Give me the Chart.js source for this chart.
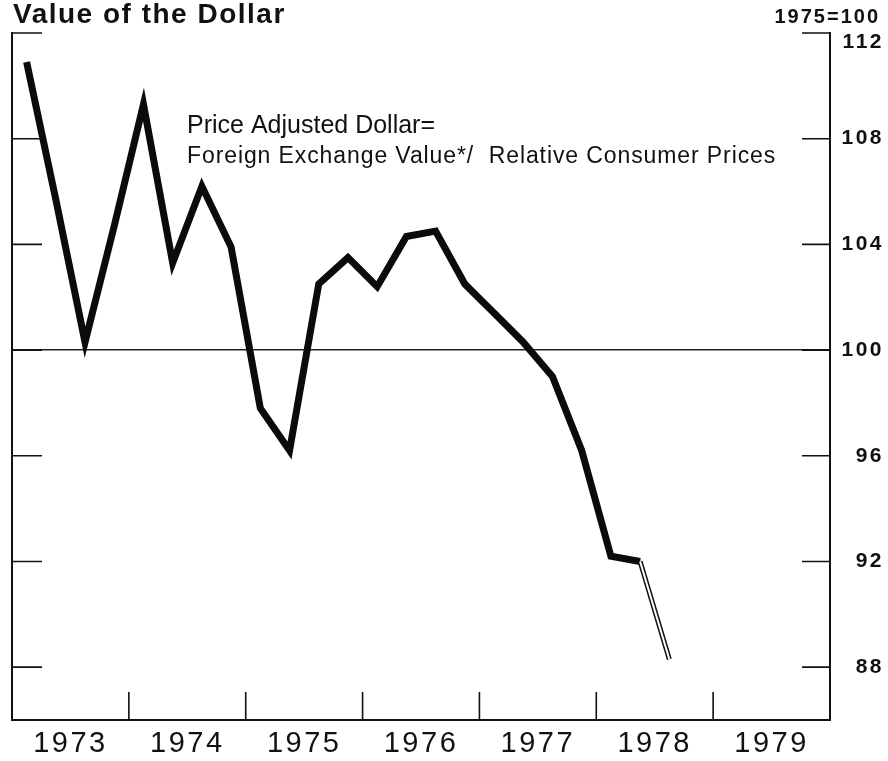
<!DOCTYPE html>
<html>
<head>
<meta charset="utf-8">
<title>Value of the Dollar</title>
<script src="https://cdn.jsdelivr.net/npm/chart.js@4.4.0/dist/chart.umd.min.js"></script>
<style>
  html, body { margin: 0; padding: 0; background: #fff; }
  #wrap { width: 888px; height: 761px; }
</style>
</head>
<body>
<div id="wrap"><canvas id="dollarChart" width="888" height="761"></canvas></div>
<script>
// quarterly price adjusted dollar, 1975=100
const quarterLabels = [
    '1973Q1', '1973Q2', '1973Q3', '1973Q4',
    '1974Q1', '1974Q2', '1974Q3', '1974Q4',
    '1975Q1', '1975Q2', '1975Q3', '1975Q4',
    '1976Q1', '1976Q2', '1976Q3', '1976Q4',
    '1977Q1', '1977Q2', '1977Q3', '1977Q4',
    '1978Q1', '1978Q2'
];
const dollarValues = [
    110.9, 105.7, 100.3, 104.7,
    109.3, 103.3, 106.2, 103.9,
    97.8, 96.2, 102.5, 103.5,
    102.4, 104.3, 104.5, 102.5,
    101.4, 100.3, 99.0, 96.2,
    92.2, 92.0
];
// preliminary segment (drawn as double line)
const estimateLabels = ['1978Q2', '1978Q3'];
const estimateValues = [92.0, 88.3];

const yearLabels = ['1973', '1974', '1975', '1976', '1977', '1978', '1979'];
const yearBounds = [1974, 1975, 1976, 1977, 1978, 1979];
const yTicks = [88, 92, 96, 100, 104, 108, 112];

const FONT = '"Liberation Sans", Arial, Helvetica, sans-serif';

function toPoints(labels, values) {
    return labels.map((lab, i) => {
        const yr = +lab.slice(0, 4);
        const q = +lab.slice(5);
        return { x: yr + (q - 0.5) / 4, y: values[i] };
    });
}

// inward tick marks on both sides and along the bottom
const tickMarks = {
    id: 'tickMarks',
    beforeDatasetsDraw(chart) {
        const ctx = chart.ctx;
        const a = chart.chartArea;
        const ys = chart.scales.y;
        const xs = chart.scales.x;
        ctx.save();
        ctx.strokeStyle = '#111';
        ctx.lineWidth = 1.6;
        ctx.beginPath();
        yTicks.forEach(v => {
            const py = ys.getPixelForValue(v);
            ctx.moveTo(a.left, py);
            ctx.lineTo(a.left + 30, py);
            ctx.moveTo(a.right - 28, py);
            ctx.lineTo(a.right, py);
        });
        yearBounds.forEach(yr => {
            const px = xs.getPixelForValue(yr);
            ctx.moveTo(px, a.bottom);
            ctx.lineTo(px, a.bottom - 28);
        });
        ctx.stroke();
        ctx.restore();
    }
};

const chartText = {
    id: 'chartText',
    beforeDraw(chart) {
        chart.ctx.letterSpacing = '2.5px';
    },
    afterDraw(chart) {
        const ctx = chart.ctx;
        ctx.save();
        ctx.fillStyle = '#111';
        ctx.textBaseline = 'alphabetic';

        ctx.letterSpacing = '1.5px';
        ctx.textAlign = 'left';
        ctx.font = 'bold 28px ' + FONT;
        ctx.fillText('Value of the Dollar', 13, 23);

        ctx.letterSpacing = '2px';
        ctx.textAlign = 'right';
        ctx.font = 'bold 20px ' + FONT;
        ctx.fillText('1975=100', 880, 23);

        ctx.textAlign = 'left';
        ctx.letterSpacing = '0px';
        ctx.font = '25px ' + FONT;
        ctx.fillText('Price Adjusted Dollar=', 187, 133);

        ctx.letterSpacing = '0.9px';
        ctx.font = '23px ' + FONT;
        ctx.fillText('Foreign Exchange Value*/  Relative Consumer Prices', 187, 163);
        ctx.restore();
    }
};

document.addEventListener('DOMContentLoaded', function() {
    const ctx = document.getElementById('dollarChart').getContext('2d');
    new Chart(ctx, {
        type: 'line',
        data: {
            datasets: [{
                label: 'Estimate inner',
                data: toPoints(estimateLabels, estimateValues),
                borderColor: '#ffffff',
                borderWidth: 2,
                pointRadius: 0,
                order: 0
            }, {
                label: 'Estimate outline',
                data: toPoints(estimateLabels, estimateValues),
                borderColor: '#111',
                borderWidth: 5,
                pointRadius: 0,
                order: 1
            }, {
                label: 'Price Adjusted Dollar',
                data: toPoints(quarterLabels, dollarValues),
                borderColor: '#0b0b0b',
                borderWidth: 7,
                borderJoinStyle: 'miter',
                pointRadius: 0,
                tension: 0,
                order: 2
            }]
        },
        options: {
            responsive: false,
            animation: false,
            layout: {
                padding: { top: 33, left: 12, right: 4, bottom: 0 }
            },
            plugins: {
                legend: { display: false },
                tooltip: { enabled: false }
            },
            scales: {
                x: {
                    type: 'linear',
                    min: 1973,
                    max: 1980,
                    afterBuildTicks: s => {
                        s.ticks = yearLabels.map(l => ({ value: +l + 0.5 }));
                    },
                    afterFit: s => { s.height = 41; },
                    grid: { display: false },
                    border: { display: true, color: '#111', width: 2 },
                    ticks: {
                        callback: (v, i) => yearLabels[i],
                        autoSkip: false,
                        maxRotation: 0,
                        padding: -1,
                        color: '#111',
                        font: { family: FONT, size: 29 }
                    }
                },
                y: {
                    position: 'right',
                    min: 86,
                    max: 112,
                    afterBuildTicks: s => {
                        s.ticks = yTicks.map(v => ({ value: v }));
                    },
                    afterFit: s => {
                        s.width = 54;
                        s.paddingTop = 0;
                        s.paddingBottom = 0;
                    },
                    grid: {
                        drawTicks: false,
                        lineWidth: 1.5,
                        color: c => (c.tick && c.tick.value === 100) ? '#222' : 'rgba(0,0,0,0)'
                    },
                    border: { display: true, color: '#111', width: 2 },
                    ticks: {
                        // top label sits a little below its tick, under "1975=100"
                        callback: v => v === 112 ? ['', String(v)] : String(v),
                        crossAlign: 'far',
                        padding: 18,
                        color: '#111',
                        font: { family: FONT, size: 21, weight: 'bold', lineHeight: 0.9 }
                    }
                },
                yLeft: {
                    position: 'left',
                    min: 86,
                    max: 112,
                    afterFit: s => { s.width = 0; },
                    grid: { display: false, drawTicks: false },
                    ticks: { display: false },
                    border: { display: true, color: '#111', width: 2 }
                }
            }
        },
        plugins: [tickMarks, chartText]
    });
});
</script>
</body>
</html>
